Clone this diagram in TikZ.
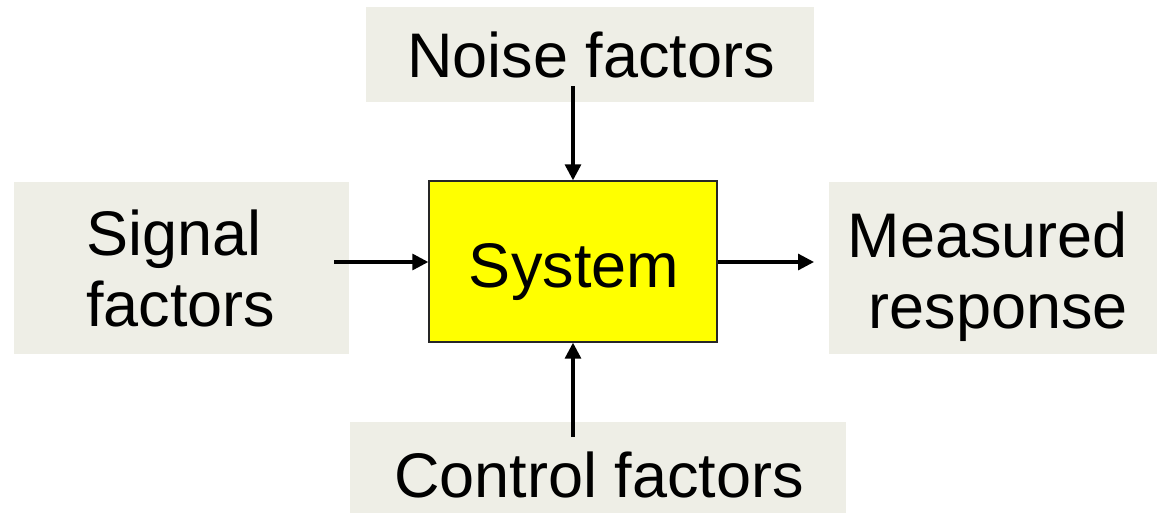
\documentclass[tikz,border=0pt]{standalone}
\usepackage{fontspec}
\setmainfont{Liberation Sans}
\usetikzlibrary{arrows.meta}

\definecolor{panelgray}{HTML}{EEEEE6}
\definecolor{sysyellow}{HTML}{FFFF00}

\begin{document}
\begin{tikzpicture}[x=1pt, y=-1pt,
  panel/.style={draw=none, fill=panelgray, inner sep=0pt, minimum width=#1},
  lbl/.style={inner sep=0pt, font=\fontsize{63}{71}\selectfont},
  sysbox/.style={draw=black!85, line width=1.4pt, fill=sysyellow, inner sep=0pt},
  flow/.style={line width=3.2pt, -{Triangle[length=16pt, width=16pt]}}
]
  \useasboundingbox (0,0) rectangle (1157,512);

  % grey panels behind the factor labels
  \node[panel=448, minimum height=95] (noise)   at (590,54)    {};
  \node[panel=335, minimum height=172] (signal) at (181.5,268) {};
  \node[panel=330, minimum height=172] (resp)   at (994,268)   {};
  \node[panel=496, minimum height=92] (control) at (598,468)   {};

  % the system block
  \node[sysbox, minimum width=288, minimum height=161] (sys) at (573,261.5) {};

  % labels
  \node[lbl, anchor=base] (noisetxt) at (591,77) {Noise factors};
  \node[lbl, anchor=north west, align=left] (signaltxt) at (86,210) {Signal\\factors};
  \node[lbl, anchor=north east, align=right] (resptxt) at (1128,212) {Measured\\response};
  \node[lbl, anchor=base] (controltxt) at (599,497) {Control factors};
  \node[lbl, anchor=base] (systxt) at (574,287) {System};

  % arrow start points inside / near the panels
  \coordinate (nstart) at (573,86);
  \coordinate (sstart) at (334,262);
  \coordinate (cstart) at (573,437);
  \coordinate (rend)   at (814,262);

  % connectors
  \draw[flow] (nstart) -- (sys.north);
  \draw[flow] (sstart) -- (sstart -| sys.west);
  \draw[flow] (cstart) -- (sys.south);
  \draw[flow] (rend -| sys.east) -- (rend);
\end{tikzpicture}
\end{document}
